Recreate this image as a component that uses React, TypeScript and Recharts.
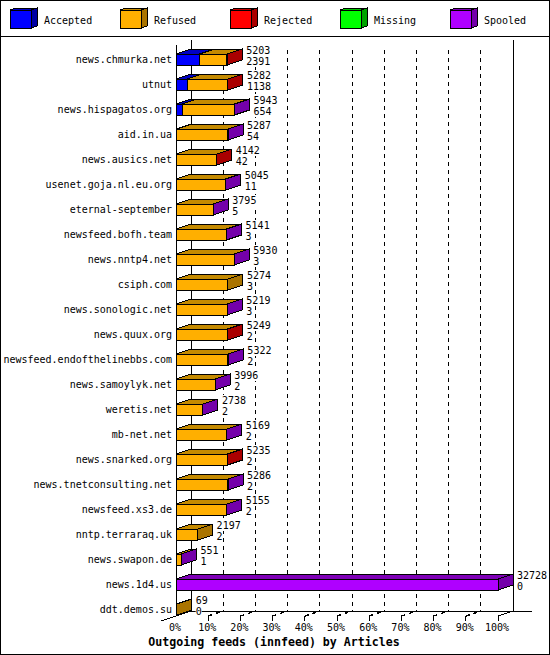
import { BarChart, Bar, XAxis, YAxis, CartesianGrid, Legend, LabelList, Label } from 'recharts';

const WIDTH = 550;
const HEIGHT = 655;
const FONT = '"DejaVu Sans Mono", monospace';
const DX = 15;
const DY = 5;

const feeds = [
  'news.chmurka.net', 'utnut', 'news.hispagatos.org', 'aid.in.ua', 'news.ausics.net',
  'usenet.goja.nl.eu.org', 'eternal-september', 'newsfeed.bofh.team', 'news.nntp4.net',
  'csiph.com', 'news.sonologic.net', 'news.quux.org', 'newsfeed.endofthelinebbs.com',
  'news.samoylyk.net', 'weretis.net', 'mb-net.net', 'news.snarked.org', 'news.tnetconsulting.net',
  'newsfeed.xs3.de', 'nntp.terraraq.uk', 'news.swapon.de', 'news.1d4.us', 'ddt.demos.su',
];
const totals = [
  5203, 5282, 5943, 5287, 4142, 5045, 3795, 5141, 5930, 5274, 5219, 5249,
  5322, 3996, 2738, 5169, 5235, 5286, 5155, 2197, 551, 32728, 69,
];
const accepted = [2391, 1138, 654, 54, 42, 11, 5, 3, 3, 3, 3, 2, 2, 2, 2, 2, 2, 2, 2, 2, 1, 0, 0];
const refused = [
  2782, 4114, 5269, 5213, 4090, 5024, 3782, 5130, 5919, 5271, 5210, 5241,
  5260, 3989, 2732, 5163, 5228, 5254, 5148, 2195, 545, 0, 69,
];
const rejected = [30, 30, 0, 0, 10, 0, 0, 0, 0, 0, 0, 6, 0, 0, 0, 0, 5, 0, 0, 0, 0, 0, 0];
const missing = [0, 0, 0, 0, 0, 0, 0, 0, 0, 0, 0, 0, 0, 0, 0, 0, 0, 0, 0, 0, 0, 0, 0];
const spooled = [0, 0, 20, 20, 0, 10, 8, 8, 8, 0, 6, 0, 60, 5, 4, 4, 0, 30, 5, 0, 5, 32728, 0];

const percents = [0, 10, 20, 30, 40, 50, 60, 70, 80, 90, 100];
const maxTotal = 32728;
const tickValues = percents.map((p) => (p * maxTotal) / 100);

const data = feeds.map((name, i) => ({
  name,
  total: totals[i],
  accepted: accepted[i],
  refused: refused[i],
  rejected: rejected[i],
  missing: missing[i],
  spooled: spooled[i],
}));

const stackOrder = ['accepted', 'refused', 'rejected', 'missing', 'spooled'];
const seriesNames = ['Accepted', 'Refused', 'Rejected', 'Missing', 'Spooled'];
const faces: Record<string, string[]> = {
  accepted: ['#0000ff', '#0000c4', '#0000a4'],
  refused: ['#ffaf00', '#c48a00', '#aa7400'],
  rejected: ['#ff0000', '#c40000', '#aa0000'],
  missing: ['#00ff00', '#00c400', '#00a400'],
  spooled: ['#af00ff', '#7e00b6', '#7400aa'],
};

const poly = (pts: number[][], fill: string) => (
  <polygon points={pts.map((p) => p.join(',')).join(' ')} fill={fill} stroke="#000" shapeRendering="crispEdges" />
);

// front, top and (for the last filled segment of the stack) the right side
const cube = (key: string) => (props: any) => {
  const { x, y, width, height, payload } = props;
  if (!payload[key]) return <g />;
  const last = [...stackOrder].reverse().find((k) => payload[k] > 0);
  const [front, top, side] = faces[key];
  const r = x + width;
  const b = y + height;
  return (
    <g>
      {poly([[x, y], [x + DX, y - DY], [r + DX, y - DY], [r, y]], top)}
      {last === key && poly([[r, y], [r + DX, y - DY], [r + DX, b - DY], [r, b]], side)}
      <rect x={x} y={y} width={width} height={height} fill={front} stroke="#000" shapeRendering="crispEdges" />
    </g>
  );
};

const labelStyle = { fontFamily: FONT, fontSize: 10, fill: '#000' };

// the numbers sit on a white patch that hides the dashed lines behind them
const ValueText = ({ x, y, value }: { x: number; y: number; value: number }) => (
  <g>
    <rect x={x} y={y - 9} width={String(value).length * 6} height={11} fill="#fff" />
    <text x={x} y={y} style={labelStyle}>{value}</text>
  </g>
);

const BarValues = (props: any) => {
  const { x, y, width, height, index } = props;
  const tx = x + width + DX + 4;
  const cy = Math.round(y + height / 2);
  return (
    <g>
      <ValueText x={tx} y={cy - 6} value={totals[index]} />
      <ValueText x={tx} y={cy + 5} value={accepted[index]} />
    </g>
  );
};

const GridLine = (props: any) => {
  const { x1, y1, y2, index } = props;
  const top = y1 - DY - 2;
  const bottom = y2 - DY - 6;
  const x = x1 + DX;
  const solid = index === 0 || index === percents.length - 1;
  return (
    <g shapeRendering="crispEdges">
      {/* the dashed lines start a little below the top of the solid walls */}
      <line
        x1={x}
        x2={x}
        y1={solid ? top : top + 10}
        y2={bottom}
        stroke="#000"
        strokeDasharray={solid ? undefined : '4 4'}
      />
      {index === 0 && (
        <>
          <line x1={x1} x2={x1} y1={top + DY} y2={bottom + DY} stroke="#000" />
          <line x1={x} x2={x + 341} y1={bottom} y2={bottom} stroke="#000" />
          <line x1={x1 - DX} x2={x} y1={bottom + DY * 2} y2={bottom} stroke="#000" />
        </>
      )}
    </g>
  );
};

const PercentTick = (props: any) => {
  const { x, y, index } = props;
  const axisY = y - 6;
  const solid = index === percents.length - 1;
  return (
    <g shapeRendering="crispEdges">
      {index > 0 && (
        <>
          <line x1={x} x2={x} y1={axisY} y2={axisY + 5} stroke="#000" />
          <line
            x1={x}
            x2={x + DX}
            y1={axisY}
            y2={axisY - DY}
            stroke="#000"
            strokeWidth={solid ? 1 : 1.5}
            strokeDasharray={solid ? undefined : '4 4'}
          />
        </>
      )}
      <text x={x - 1} y={axisY + 15} textAnchor="middle" style={labelStyle}>
        {percents[index]}%
      </text>
    </g>
  );
};

const CubeLegend = () => (
  <svg width={WIDTH} height={37} style={{ display: 'block' }}>
    <line x1={0} x2={WIDTH} y1={36} y2={36} stroke="#000" shapeRendering="crispEdges" />
    {stackOrder.map((key, i) => {
      const x = 10 + i * 110;
      const [front, top, side] = faces[key];
      return (
        <g key={key}>
          {poly([[x, 10], [x + 6, 8], [x + 27, 8], [x + 21, 10]], top)}
          {poly([[x + 21, 10], [x + 27, 8], [x + 27, 26], [x + 21, 28]], side)}
          <rect x={x} y={10} width={21} height={18} fill={front} stroke="#000" shapeRendering="crispEdges" />
          <text x={x + 34} y={24} style={labelStyle}>{seriesNames[i]}</text>
        </g>
      );
    })}
  </svg>
);

export default function App() {
  return (
    <div style={{ position: 'absolute', left: 0, top: 0, width: WIDTH, height: HEIGHT, background: '#fff' }}>
      <BarChart
        width={WIDTH}
        height={HEIGHT}
        data={data}
        layout="vertical"
        barSize={11}
        margin={{ top: 11, right: 52, bottom: 0, left: 0 }}
      >
        <Legend
          verticalAlign="top"
          align="left"
          content={<CubeLegend />}
          wrapperStyle={{ left: 0, top: 0, width: WIDTH, height: 36 }}
        />
        <CartesianGrid horizontal={false} vertical={GridLine} verticalValues={tickValues} />
        <XAxis
          type="number"
          domain={[0, maxTotal]}
          ticks={tickValues}
          interval={0}
          height={33}
          axisLine={false}
          tickLine={false}
          tickSize={0}
          tickMargin={0}
          tick={<PercentTick />}
        >
          <Label
            value="Outgoing feeds (innfeed) by Articles"
            position="insideBottom"
            offset={9}
            dx={-63}
            style={{ fontFamily: FONT, fontSize: 11.6, fontWeight: 'bold', fill: '#000' }}
          />
        </XAxis>
        <YAxis
          type="category"
          dataKey="name"
          width={176}
          interval={0}
          axisLine={false}
          tickLine={false}
          tickSize={0}
          tickMargin={4}
          tick={labelStyle}
        />
        {stackOrder.map((key, i) => (
          <Bar
            key={key}
            dataKey={key}
            name={seriesNames[i]}
            stackId="feeds"
            fill={faces[key][0]}
            shape={cube(key)}
            isAnimationActive={false}
          >
            {key === 'spooled' && <LabelList content={<BarValues />} />}
          </Bar>
        ))}
      </BarChart>
      <div
        style={{
          position: 'absolute',
          inset: 0,
          boxSizing: 'border-box',
          border: '1px solid #000',
          pointerEvents: 'none',
        }}
      />
    </div>
  );
}
